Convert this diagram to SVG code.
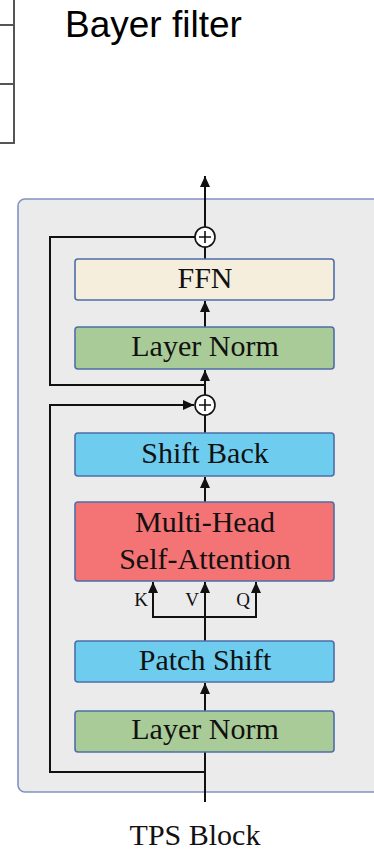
<svg xmlns="http://www.w3.org/2000/svg" width="374" height="850" viewBox="0 0 374 850">
  <defs>
    <marker id="arrow" markerUnits="userSpaceOnUse" markerWidth="11" markerHeight="10" refX="11" refY="5" orient="auto">
      <path d="M0,0 L11,5 L0,10 z" fill="#111"/>
    </marker>
    <style>
      .box { stroke: #4e6ea8; stroke-width: 1.6; }
      .label { font-family: "Liberation Serif", "Times New Roman", serif; font-size: 30px; fill: #111; text-anchor: middle; }
      .small { font-family: "Liberation Serif", "Times New Roman", serif; font-size: 19px; fill: #111; text-anchor: middle; }
      .wire { fill: none; stroke: #111; stroke-width: 2; }
      .grid { fill: none; stroke: #555; stroke-width: 2; }
    </style>
  </defs>

  <!-- fragment of the Bayer filter grid -->
  <g id="bayer-grid">
    <path class="grid" d="M14,0 V143 H0 M0,25 H14 M0,84 H14"/>
  </g>
  <text x="65" y="37" font-family="'Liberation Sans', Arial, sans-serif" font-size="37" fill="#000">Bayer filter</text>

  <!-- block panel -->
  <rect id="panel" x="18" y="199" width="380" height="593" rx="7" fill="#ebebeb" stroke="#8193c4" stroke-width="1.6"/>

  <!-- connectors -->
  <g id="connectors">
    <!-- input up to the first Layer Norm -->
    <line class="wire" x1="205" y1="802" x2="205" y2="752"/>
    <!-- residual branch 1 -->
    <path class="wire" d="M205,772 H50 V405 H194" marker-end="url(#arrow)"/>
    <!-- Layer Norm to Patch Shift -->
    <line class="wire" x1="205" y1="711" x2="205" y2="683" marker-end="url(#arrow)"/>
    <!-- Patch Shift to K, V, Q -->
    <line class="wire" x1="205" y1="641" x2="205" y2="582" marker-end="url(#arrow)"/>
    <path class="wire" d="M153,582 V617 H256 V582"/>
    <line class="wire" x1="153" y1="617" x2="153" y2="582" marker-end="url(#arrow)"/>
    <line class="wire" x1="256" y1="617" x2="256" y2="582" marker-end="url(#arrow)"/>
    <!-- MHSA to Shift Back -->
    <line class="wire" x1="205" y1="502" x2="205" y2="477" marker-end="url(#arrow)"/>
    <!-- Shift Back to add -->
    <line class="wire" x1="205" y1="433" x2="205" y2="415"/>
    <!-- add to second Layer Norm -->
    <line class="wire" x1="205" y1="395" x2="205" y2="370" marker-end="url(#arrow)"/>
    <!-- residual branch 2 -->
    <path class="wire" d="M205,385 H50 V237 H195"/>
    <!-- Layer Norm to FFN -->
    <line class="wire" x1="205" y1="327" x2="205" y2="301" marker-end="url(#arrow)"/>
    <!-- FFN to add -->
    <line class="wire" x1="205" y1="259" x2="205" y2="247"/>
    <!-- output -->
    <line class="wire" x1="205" y1="227" x2="205" y2="176" marker-end="url(#arrow)"/>
  </g>

  <!-- adders -->
  <g id="add-top">
    <circle cx="205" cy="237" r="10" fill="#fff" stroke="#111" stroke-width="1.6"/>
    <path d="M199,237 H211 M205,231 V243" stroke="#111" stroke-width="1.6"/>
  </g>
  <g id="add-mid">
    <circle cx="205" cy="405" r="10" fill="#fff" stroke="#111" stroke-width="1.6"/>
    <path d="M199,405 H211 M205,399 V411" stroke="#111" stroke-width="1.6"/>
  </g>

  <!-- layers -->
  <g id="ffn">
    <rect class="box" x="75" y="259" width="259" height="41" rx="3" fill="#f5eedd"/>
    <text class="label" x="205" y="288">FFN</text>
  </g>
  <g id="layer-norm-2">
    <rect class="box" x="75" y="327" width="259" height="42" rx="3" fill="#a9cb97"/>
    <text class="label" x="205" y="356">Layer Norm</text>
  </g>
  <g id="shift-back">
    <rect class="box" x="75" y="433" width="259" height="43" rx="3" fill="#6ecdef"/>
    <text class="label" x="205" y="463">Shift Back</text>
  </g>
  <g id="mhsa">
    <rect class="box" x="75" y="502" width="259" height="79" rx="3" fill="#f47374"/>
    <text class="label" x="205" y="532">Multi-Head</text>
    <text class="label" x="205" y="569">Self-Attention</text>
  </g>
  <g id="kvq-labels">
    <text class="small" x="141" y="606">K</text>
    <text class="small" x="192" y="606">V</text>
    <text class="small" x="243" y="606">Q</text>
  </g>
  <g id="patch-shift">
    <rect class="box" x="75" y="641" width="259" height="41" rx="3" fill="#6ecdef"/>
    <text class="label" x="205" y="670">Patch Shift</text>
  </g>
  <g id="layer-norm-1">
    <rect class="box" x="75" y="711" width="259" height="41" rx="3" fill="#a9cb97"/>
    <text class="label" x="205" y="739">Layer Norm</text>
  </g>

  <text class="label" x="195" y="845">TPS Block</text>
</svg>
